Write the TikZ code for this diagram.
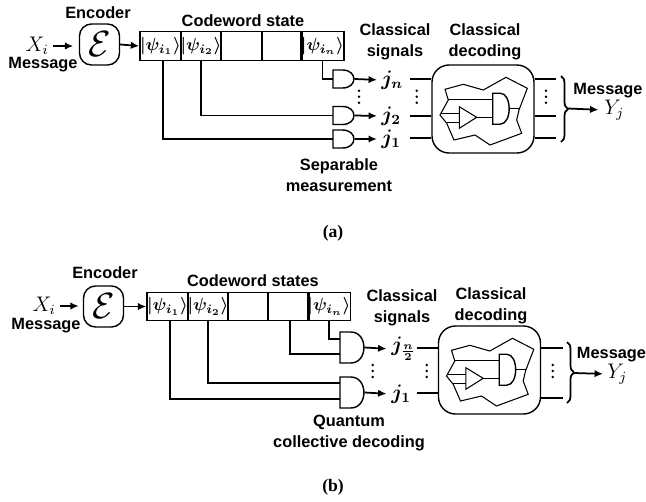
\documentclass[tikz,border=0pt]{standalone}
\usepackage[no-math]{fontspec}
\setmainfont{Liberation Serif}
\setsansfont{Liberation Sans}
\usetikzlibrary{arrows.meta,decorations.pathreplacing}
\newcommand{\andgate}[5]{%
  \node[minimum width=#4*0.02cm,minimum height=#5*0.02cm,inner sep=0pt,anchor=west] (#1) at (#2,#3) {};
  \draw[gateline,fill=white] ({#2+0.45*#4},{#3-#5/2})--(#2,{#3-#5/2})--(#2,{#3+#5/2})--({#2+0.45*#4},{#3+#5/2})
    .. controls ({#2+1.18*#4},{#3+#5/2}) and ({#2+1.18*#4},{#3-#5/2}) .. cycle;
}
\tikzset{
  lab/.style={font=\fontsize{9.3}{11}\selectfont\sffamily\bfseries,inner sep=0pt},
  sym/.style={font=\fontsize{12}{14}\selectfont,inner sep=0pt},
  jlab/.style={font=\fontsize{12}{14}\selectfont\boldmath,inner sep=0pt},
  cell/.style={draw,line width=0.8pt,minimum width=0.82cm,minimum height=0.57cm,inner sep=0pt,font=\fontsize{10.4}{13}\selectfont\boldmath},
  encbox/.style={draw,line width=0.8pt,rounded corners=2.4mm,minimum width=0.8cm,minimum height=0.82cm,inner sep=0pt},
  decbox/.style={draw,line width=0.8pt,rounded corners=3.4mm,minimum width=2.04cm,minimum height=1.76cm,inner sep=0pt},
  wire/.style={line width=1pt},
  gateline/.style={line width=0.8pt},
  inner/.style={line width=0.6pt},
  dotmark/.style={circle,fill,inner sep=0pt,minimum size=0.055cm},
  decoder/.pic={
    \draw[inner] (445,89.3)--(463.3,84.3)--(483.3,90)--(506,77.3)--(527.3,88.3)--(519,110)--(516.7,120)
      --(521.7,133.3)--(490,145)--(475,135)--(454,140)--(446.7,123.3)--(440,115)--(448.3,100)--cycle;
    \andgate{dg}{492.7}{108.7}{16.5}{31}
    \draw[inner] (459.3,106.7)--(459.3,128.3)--(476.7,117.3)--cycle;
    \draw[inner] (448.3,99.3)--(492.7,99.3) (440.7,113.3)--(459.3,113.3) (446.7,122.7)--(459.3,122.7);
    \draw[inner] (476.7,117.3)--(492.7,117.3) (dg.east)--(519,108.7);
  }
}
\begin{document}
\begin{tikzpicture}[x=0.02cm,y=-0.02cm,>={Latex[length=4.8pt,width=4.2pt]}]
  \useasboundingbox (0,0) rectangle (646,501);
  % panel a
  \node[lab] (enclaba) at (98,13) {Encoder};
  \node[encbox] (enca) at (99.5,44.5) {\huge$\mathcal{E}$};
  \node[sym,anchor=east] (xa) at (49,46) {$X_i$};
  \node[lab] (msga) at (43,65) {Message};
  \node[lab] (cwa) at (243,21) {Codeword state};
  \node[cell] (ca1) at (160.5,46) {$|\psi_{i_1}\rangle$};
  \node[cell] (ca2) at (201,46) {$|\psi_{i_2}\rangle$};
  \node[cell] (ca3) at (241.5,46) {};
  \node[cell] (ca4) at (282,46) {};
  \node[cell] (ca5) at (322.5,46) {$|\psi_{i_n}\rangle$};
  \draw[wire,->,shorten <=0.08cm,shorten >=0.11cm] (xa.east)--(enca.west |- xa.east);
  \draw[wire,->] (enca.east)--(ca1.west);
  \andgate{ga1}{333}{79}{21}{18}
  \andgate{ga2}{333}{115.5}{21}{18}
  \andgate{ga3}{333}{139}{21}{18}
  \draw[wire] (ca5.south) |- (ga1.west);
  \draw[wire] (ca2.south) |- (ga2.west);
  \draw[wire] ([xshift=0.05cm]ca1.south) |- (ga3.west);
  \node[jlab,anchor=west] (jan) at (381,80) {$j_n$};
  \node[jlab,anchor=west] (ja2) at (381,116) {$j_2$};
  \node[jlab,anchor=west] (ja1) at (381,139) {$j_1$};
  \draw[wire,->,shorten >=0.08cm] (ga1.east)--(jan.west);
  \draw[wire,->,shorten >=0.08cm] (ga2.east)--(ja2.west);
  \draw[wire,->,shorten >=0.08cm] (ga3.east)--(ja1.west);
  \foreach \px in {359,416.7,546}{
    \foreach \py in {90.7,96.7,102.7}{ \node[dotmark] (da) at (\px,\py) {}; }
  }
  \node[lab,align=center] (siga) at (395,42) {Classical\\[1.2pt]signals};
  \node[lab,align=center] (deca) at (485,42) {Classical\\[1.2pt]decoding};
  \node[decbox] (boxa) at (483,109) {};
  \pic at (0,0) {decoder};
  \foreach \y in {79,116,138}{
    \coordinate (la) at (410,\y); \coordinate (ra) at (556,\y);
    \draw[wire] (la)--(boxa.west |- la);
    \draw[wire] (boxa.east |- ra)--(ra);
  }
  \coordinate (ba1) at (561,76); \coordinate (ba2) at (561,142); \coordinate (tipa) at (568,108.5);
  \draw[wire,decorate,decoration={brace,amplitude=0.14cm}] (ba1)--(ba2);
  \node[lab] (msgra) at (608,91) {Message};
  \node[sym,anchor=west] (ya) at (604,110) {$Y_j$};
  \draw[wire,->,shorten >=0.11cm] (tipa)--(ya.west);
  \node[lab,align=center] (sepa) at (339,175) {Separable\\[1.2pt]measurement};
  \node[inner sep=0pt,font=\bfseries] (capa) at (333,233) {(a)};
  % panel b
  \node[lab] (enclabb) at (105,273) {Encoder};
  \node[encbox] (encb) at (103.5,306.5) {\huge$\mathcal{E}$};
  \node[sym,anchor=east] (xb) at (56,306) {$X_i$};
  \node[lab] (msgb) at (46,326) {Message};
  \node[lab] (cwb) at (253,281) {Codeword states};
  \node[cell] (cb1) at (167.5,306.5) {$|\psi_{i_1}\rangle$};
  \node[cell] (cb2) at (208,306.5) {$|\psi_{i_2}\rangle$};
  \node[cell] (cb3) at (248,306.5) {};
  \node[cell] (cb4) at (288.5,306.5) {};
  \node[cell] (cb5) at (329,306.5) {$|\psi_{i_n}\rangle$};
  \draw[wire,->,shorten <=0.08cm,shorten >=0.08cm] (xb.east)--(encb.west |- xb.east);
  \draw[wire,->] (encb.east)--(cb1.west);
  \coordinate (ib1) at (340,339); \coordinate (ib2) at (340,354);
  \coordinate (ib3) at (340,383); \coordinate (ib4) at (340,399);
  \draw[wire] (cb5.south) |- (ib1);
  \draw[wire] ([xshift=0.03cm]cb4.south) |- (ib2);
  \draw[wire] (cb2.south) |- (ib3);
  \draw[wire] ([xshift=0.05cm]cb1.south) |- (ib4);
  \andgate{gb1}{340}{347.5}{24}{31}
  \andgate{gb2}{340}{392.5}{24}{31}
  \node[jlab,anchor=west] (jbn) at (391,349) {$j_{\frac{n}{2}}$};
  \node[jlab,anchor=west] (jb1) at (391,394) {$j_1$};
  \draw[wire,->,shorten >=0.09cm] (gb1.east)--(jbn.west);
  \draw[wire,->,shorten >=0.09cm] (gb2.east)--(jb1.west);
  \foreach \px in {372.7,426.7,552.7}{
    \foreach \py in {365,371,377}{ \node[dotmark] (db) at (\px,\py) {}; }
  }
  \node[lab,align=center] (sigb) at (402,308) {Classical\\[1.2pt]signals};
  \node[lab,align=center] (decb) at (491,306) {Classical\\[1.2pt]decoding};
  \node[decbox] (boxb) at (489.5,370) {};
  \pic at (6.5,261) {decoder};
  \coordinate (lb1) at (417,348); \coordinate (lb2) at (417,393);
  \coordinate (rb1) at (563,348); \coordinate (rb2) at (563,398);
  \draw[wire] (lb1)--(boxb.west |- lb1) (lb2)--(boxb.west |- lb2);
  \draw[wire] (boxb.east |- rb1)--(rb1) (boxb.east |- rb2)--(rb2);
  \coordinate (bb1) at (567,342); \coordinate (bb2) at (567,403); \coordinate (tipb) at (574,373);
  \draw[wire,decorate,decoration={brace,amplitude=0.14cm}] (bb1)--(bb2);
  \node[lab] (msgrb) at (611.5,355) {Message};
  \node[sym,anchor=west] (yb) at (607,374) {$Y_j$};
  \draw[wire,->,shorten >=0.08cm] (tipb)--(yb.west);
  \node[lab,align=center] (quab) at (349,433) {Quantum\\[1.2pt]collective decoding};
  \node[inner sep=0pt,font=\bfseries] (capb) at (333,487) {(b)};
\end{tikzpicture}
\end{document}
